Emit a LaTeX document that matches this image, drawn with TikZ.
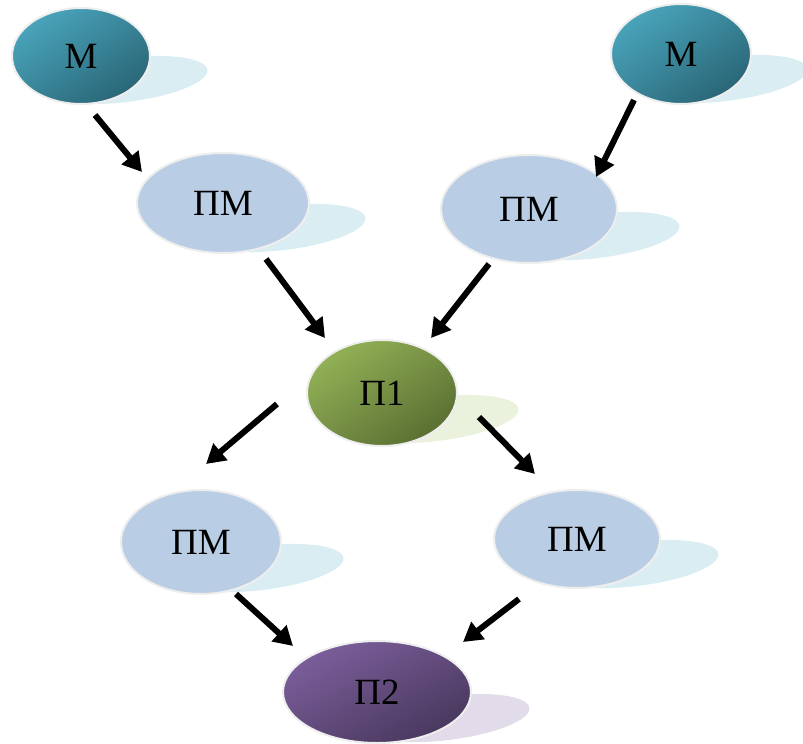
\documentclass[tikz,border=0pt]{standalone}
\usepackage{fontspec}
\setmainfont{Liberation Serif}
\usetikzlibrary{shapes.geometric,arrows.meta,shadings}
\definecolor{mLight}{HTML}{4FB0C8}
\definecolor{mMid}{HTML}{3A8599}
\definecolor{mDark}{HTML}{235A69}
\definecolor{gLight}{HTML}{9DBE5B}
\definecolor{gMid}{HTML}{769046}
\definecolor{gDark}{HTML}{4F6229}
\definecolor{pLight}{HTML}{8465A6}
\definecolor{pMid}{HTML}{624B7C}
\definecolor{pDark}{HTML}{3F3152}
\definecolor{pmFill}{HTML}{B9CDE5}
\definecolor{shBlue}{HTML}{DAEDF3}
\definecolor{shGreen}{HTML}{EAF1DD}
\definecolor{shPurple}{HTML}{E1DBEA}
\definecolor{rim}{HTML}{EEEEEE}
\tikzset{
  bubble/.style={ellipse, draw=rim, line width=2pt, inner sep=0pt,
    font=\fontsize{37}{40}\selectfont, text=black},
  mbub/.style={bubble, upper left=mLight, lower right=mDark, upper right=mMid, lower left=mMid},
  pmbub/.style={bubble, fill=pmFill},
  gbub/.style={bubble, upper left=gLight, lower right=gDark, upper right=gMid, lower left=gMid},
  vbub/.style={bubble, upper left=pLight, lower right=pDark, upper right=pMid, lower left=pMid},
  shadowell/.style={ellipse, inner sep=0pt, minimum width=166pt, minimum height=44pt, rotate=7},
  arr/.style={line width=6pt, -{Triangle[length=19pt,width=21pt]}}
}
\begin{document}
\begin{tikzpicture}[x=1pt,y=-1pt]
\useasboundingbox (0,0) rectangle (803,744);
% shadows
\node[shadowell, fill=shBlue] (s1) at (125,80) {};
\node[shadowell, fill=shBlue] (s2) at (725,79) {};
\node[shadowell, fill=shBlue] (s3) at (283,228) {};
\node[shadowell, fill=shBlue] (s4) at (597,236) {};
\node[shadowell, fill=shGreen] (s5) at (436,419) {};
\node[shadowell, fill=shBlue] (s6) at (261,568) {};
\node[shadowell, fill=shBlue] (s7) at (636,564) {};
\node[shadowell, fill=shPurple] (s8) at (447,718) {};
% main nodes
\node[mbub, minimum width=138pt, minimum height=96pt] (m1) at (81,56) {М};
\node[mbub, minimum width=140pt, minimum height=100pt] (m2) at (681,54) {М};
\node[pmbub, minimum width=172pt, minimum height=100pt] (pm1) at (223,203) {ПМ};
\node[pmbub, minimum width=176pt, minimum height=108pt] (pm2) at (529,209) {ПМ};
\node[gbub, minimum width=150pt, minimum height=106pt] (p1) at (382,393) {П1};
\node[pmbub, minimum width=160pt, minimum height=104pt] (pm3) at (201,542) {ПМ};
\node[pmbub, minimum width=166pt, minimum height=98pt] (pm4) at (577,539) {ПМ};
\node[vbub, minimum width=188pt, minimum height=102pt] (p2) at (377,692) {П2};
% arrow end points
\coordinate (a1s) at (95,115);  \coordinate (a1e) at (142,172);
\coordinate (a2s) at (634,100); \coordinate (a2e) at (596,177);
\coordinate (a3s) at (266,259); \coordinate (a3e) at (325,338);
\coordinate (a4s) at (489,264); \coordinate (a4e) at (431,338);
\coordinate (a5s) at (277,404); \coordinate (a5e) at (206,464);
\coordinate (a6s) at (479,417); \coordinate (a6e) at (535,474);
\coordinate (a7s) at (236,594); \coordinate (a7e) at (293,646);
\coordinate (a8s) at (519,599); \coordinate (a8e) at (463,642);
\draw[arr] (a1s) -- (a1e);
\draw[arr] (a2s) -- (a2e);
\draw[arr] (a3s) -- (a3e);
\draw[arr] (a4s) -- (a4e);
\draw[arr] (a5s) -- (a5e);
\draw[arr] (a6s) -- (a6e);
\draw[arr] (a7s) -- (a7e);
\draw[arr] (a8s) -- (a8e);
\end{tikzpicture}
\end{document}
